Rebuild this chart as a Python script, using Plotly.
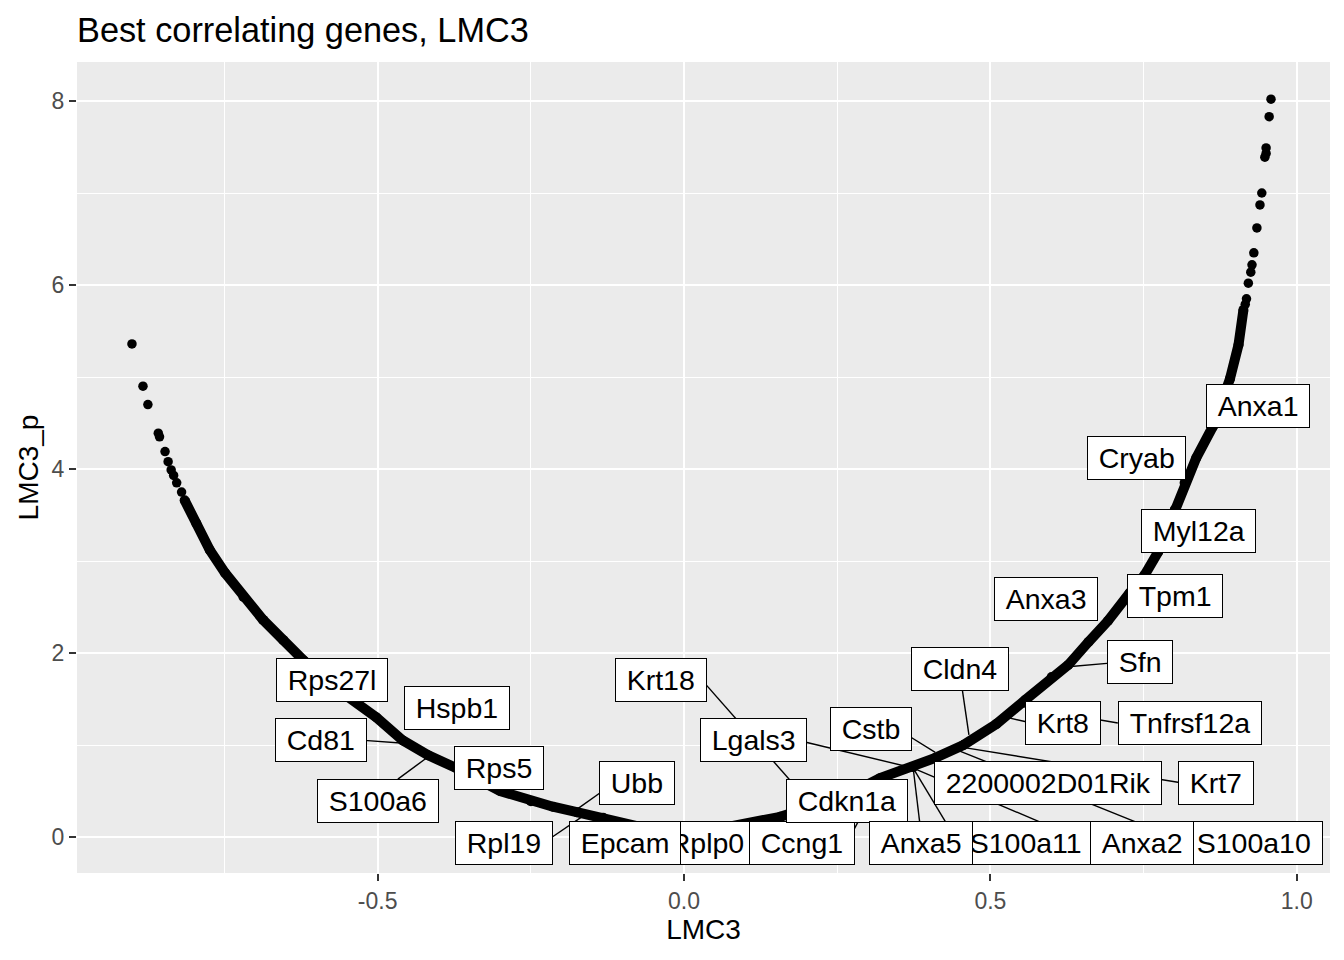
import plotly.graph_objects as go

# curve of all genes, dense parts and sparse tails
dense_left_x = [-0.815, -0.796, -0.774, -0.749, -0.719, -0.687, -0.654, -0.621, -0.585, -0.556,
                -0.502, -0.459, -0.418, -0.372, -0.30, -0.25, -0.214, -0.175, -0.132, -0.072, -0.035, 0.0]
dense_left_y = [3.66, 3.41, 3.12, 2.87, 2.61, 2.36, 2.14, 1.92, 1.72, 1.56,
                1.30, 1.05, 0.89, 0.75, 0.50, 0.39, 0.33, 0.27, 0.21, 0.11, 0.04, 0.0]
dense_right_x = [0.0, 0.035, 0.072, 0.115, 0.157, 0.194, 0.23, 0.27, 0.32, 0.374, 0.41, 0.456, 0.51,
                 0.557, 0.60, 0.627, 0.66, 0.692, 0.727, 0.752, 0.774, 0.801, 0.817, 0.836, 0.863,
                 0.891, 0.905, 0.913]
dense_right_y = [0.0, 0.04, 0.11, 0.16, 0.22, 0.30, 0.38, 0.47, 0.64, 0.76, 0.86, 1.00, 1.23,
                 1.49, 1.74, 1.87, 2.12, 2.35, 2.65, 2.85, 3.10, 3.56, 3.85, 4.12, 4.46,
                 4.98, 5.35, 5.73]
tail_x = [-0.901, -0.883, -0.875, -0.858, -0.856, -0.847, -0.842, -0.837, -0.833, -0.828, -0.820,
          0.916, 0.918, 0.921, 0.925, 0.927, 0.930, 0.935, 0.940, 0.943, 0.948, 0.950, 0.950, 0.955, 0.958]
tail_y = [5.36, 4.90, 4.70, 4.39, 4.35, 4.19, 4.08, 3.99, 3.93, 3.85, 3.75,
          5.79, 5.85, 6.02, 6.14, 6.22, 6.35, 6.62, 6.87, 7.00, 7.39, 7.43, 7.49, 7.83, 8.02]

# gene labels (centre of the label box)
genes = ['Rps27l', 'Hspb1', 'Cd81', 'S100a6', 'Rps5', 'Ubb', 'Rpl19', 'Rplp0', 'Epcam', 'Ccng1',
         'Cdkn1a', 'Lgals3', 'Krt18', 'Cstb', 'Cldn4', 'Sfn', 'Krt8', 'Tnfrsf12a', '2200002D01Rik',
         'Krt7', 'S100a11', 'Anxa5', 'S100a10', 'Anxa2', 'Anxa1', 'Cryab', 'Myl12a', 'Anxa3', 'Tpm1']
label_x = [-0.575, -0.370, -0.593, -0.500, -0.302, -0.077, -0.294, 0.037, -0.097, 0.193,
           0.266, 0.114, -0.038, 0.305, 0.451, 0.745, 0.619, 0.826, 0.594,
           0.869, 0.558, 0.387, 0.930, 0.748, 0.937, 0.738, 0.839, 0.591, 0.802]
label_y = [1.71, 1.40, 1.05, 0.39, 0.75, 0.59, -0.07, -0.07, -0.07, -0.07,
           0.39, 1.05, 1.71, 1.17, 1.83, 1.90, 1.24, 1.24, 0.59,
           0.59, -0.07, -0.07, -0.07, -0.07, 4.68, 4.12, 3.33, 2.59, 2.62]

# repel segments: gene point -> edge of its label
seg_x0 = [0.627, 0.465, 0.527, 0.550, 0.450, 0.437, 0.410, 0.374, 0.374, 0.374, 0.374,
          0.211, 0.323, -0.175, -0.162, -0.457, -0.418]
seg_y0 = [1.85, 1.11, 1.30, 1.42, 0.98, 0.97, 0.92, 0.75, 0.75, 0.75, 0.75,
          0.33, 0.65, 0.30, 0.24, 1.02, 0.87]
seg_x1 = [0.695, 0.454, 0.560, 0.708, 0.811, 0.746, 0.369, 0.199, 0.589, 0.385, 0.429,
          0.034, 0.274, -0.135, -0.215, -0.522, -0.467]
seg_y1 = [1.89, 1.61, 1.25, 1.24, 0.59, 0.14, 1.09, 1.03, 0.14, 0.14, 0.14,
          1.67, 0.04, 0.49, 0.0, 1.05, 0.63]

FONT = "Liberation Sans, Arial, sans-serif"

fig = go.Figure()

fig.add_trace(go.Scatter(x=dense_left_x, y=dense_left_y, mode='lines+markers',
                         line=dict(color='black', width=10), marker=dict(color='black', size=10),
                         hoverinfo='skip'))
fig.add_trace(go.Scatter(x=dense_right_x, y=dense_right_y, mode='lines+markers',
                         line=dict(color='black', width=10), marker=dict(color='black', size=10),
                         hoverinfo='skip'))
fig.add_trace(go.Scatter(x=tail_x, y=tail_y, mode='markers',
                         marker=dict(color='black', size=9.5), hoverinfo='skip'))

# segments as one broken line
sx, sy = [], []
for a, b, c, d in zip(seg_x0, seg_y0, seg_x1, seg_y1):
    sx += [a, c, None]
    sy += [b, d, None]
fig.add_trace(go.Scatter(x=sx, y=sy, mode='lines', line=dict(color='black', width=1.4),
                         hoverinfo='skip'))

# thin spaces give the label boxes ggrepel's wider side padding
for g, lx, ly in zip(genes, label_x, label_y):
    fig.add_annotation(x=lx, y=ly, text='\u2009' + g + '\u2009', showarrow=False,
                       font=dict(family=FONT, size=28.5, color='black'),
                       bgcolor='white', bordercolor='black', borderwidth=1, borderpad=5)

# page body has an 8px margin, so the figure is a bit smaller than the window
fig.update_layout(
    width=1328, height=944,
    paper_bgcolor='white', plot_bgcolor='#EBEBEB',
    margin=dict(l=69, r=6, t=54, b=79),
    showlegend=False,
    font=dict(family=FONT),
    title=dict(text='Best correlating genes, LMC3', x=0, xref='paper', xanchor='left',
               y=1 - 10 / 944, yref='container', yanchor='top',
               font=dict(family=FONT, size=34.3, color='black')),
)
fig.update_xaxes(range=[-0.9907, 1.0543], tickvals=[-0.5, 0.0, 0.5, 1.0],
                 ticktext=['-0.5', '0.0', '0.5', '1.0'],
                 showgrid=True, gridcolor='white', gridwidth=2, zeroline=False,
                 ticks='outside', ticklen=7, tickwidth=1.5, tickcolor='#333333',
                 tickfont=dict(size=23, color='#4D4D4D'),
                 minor=dict(tickvals=[-0.75, -0.25, 0.25, 0.75], showgrid=True,
                            gridcolor='white', gridwidth=1, ticks=''),
                 title=dict(text='LMC3', font=dict(size=28, color='black'), standoff=6))
fig.update_yaxes(range=[-0.391, 8.424], tickvals=[0, 2, 4, 6, 8],
                 showgrid=True, gridcolor='white', gridwidth=2, zeroline=False,
                 ticks='outside', ticklen=7, tickwidth=1.5, tickcolor='#333333',
                 tickfont=dict(size=23, color='#4D4D4D'),
                 minor=dict(tickvals=[1, 3, 5, 7], showgrid=True,
                            gridcolor='white', gridwidth=1, ticks=''),
                 title=dict(text='LMC3_p', font=dict(size=28, color='black'), standoff=4))

fig.write_html("out.html")
